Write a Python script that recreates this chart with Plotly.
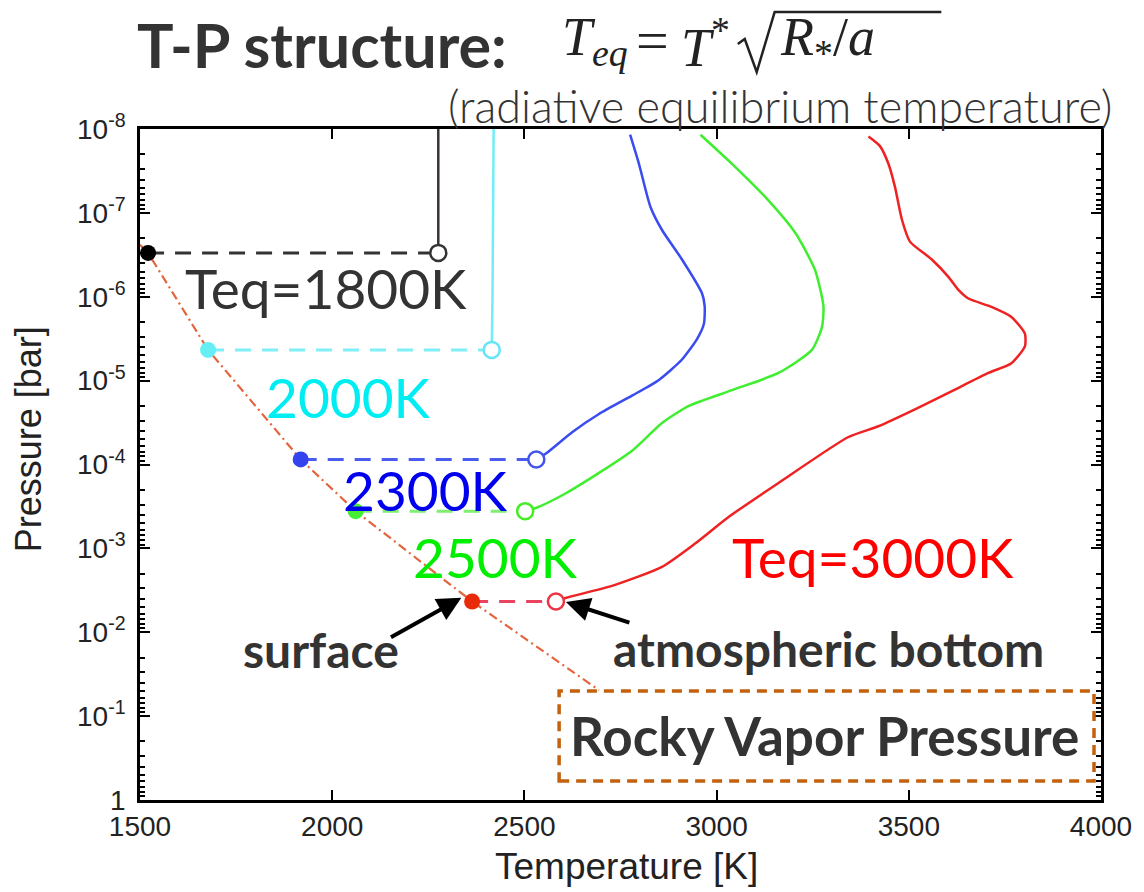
import plotly.graph_objects as go

# ---------------- data ----------------
# Rocky vapour-pressure curve
vap_T = [1500, 1521, 1677, 1918, 2061, 2364, 2694]
vap_P = [2.4e-7, 3.0e-7, 4.3e-6, 8.7e-5, 3.6e-4, 4.3e-3, 4.9e-2]

# Teq = 1800 K
t1800_T = [2276, 2276]
t1800_P = [3.0e-7, 1.0e-8]
# Teq = 2000 K
t2000_T = [2415, 2417, 2420]
t2000_P = [4.3e-6, 1.0e-6, 1.0e-8]
# Teq = 2300 K
t2300_T = [2531, 2556, 2625, 2694, 2781, 2850, 2910, 2949, 2967, 2969, 2962, 2910, 2858, 2828, 2798, 2775]
t2300_P = [8.7e-5, 7.4e-5, 4.1e-5, 2.5e-5, 1.5e-5, 9.8e-6, 5.6e-6, 3.2e-6, 2.1e-6, 1.3e-6, 9.1e-7, 3.6e-7,
           1.6e-7, 8.5e-8, 2.6e-8, 1.17e-8]
# Teq = 2500 K
t2500_T = [2502, 2530, 2608, 2694, 2781, 2858, 2928, 3040, 3161, 3248, 3274, 3278, 3256, 3205, 3127, 3040, 2958]
t2500_P = [3.6e-4, 3.3e-4, 2.2e-4, 1.26e-4, 6.8e-5, 3.2e-5, 2.0e-5, 1.3e-5, 8.1e-6, 4.3e-6, 2.3e-6, 1.3e-6,
           4.8e-7, 1.74e-7, 6.5e-8, 2.6e-8, 1.17e-8]
# Teq = 3000 K
t3000_T = [2582, 2607, 2728, 2858, 2945, 3032, 3161, 3343, 3421, 3516, 3603, 3707, 3767, 3802, 3802, 3767,
           3715, 3655, 3629, 3603, 3560, 3503, 3482, 3464, 3447, 3425, 3395]
t3000_P = [4.3e-3, 3.9e-3, 2.8e-3, 1.66e-3, 8.7e-4, 4.2e-4, 1.66e-4, 4.7e-5, 3.5e-5, 2.2e-5, 1.4e-5, 8.1e-6,
           6.2e-6, 3.9e-6, 2.75e-6, 1.74e-6, 1.32e-6, 1.05e-6, 8.3e-7, 5.8e-7, 3.6e-7, 2.2e-7, 1.2e-7, 4.9e-8,
           2.6e-8, 1.6e-8, 1.23e-8]

# surface points (on vapour curve) and atmospheric bottoms
surf_T = [1521, 1677, 1918, 2061, 2364]
bot_T = [2276, 2415, 2531, 2502, 2582]
bot_P = [3.0e-7, 4.3e-6, 8.7e-5, 3.6e-4, 4.3e-3]

dot_colors = ["#000000", "#66eef5", "#3344ee", "#44ee33", "#e82a08"]
dash_colors = ["#333333", "#7ff0f8", "#4a5cf0", "#80ee70", "#e84460"]
ring_colors = ["#333333", "#66e4f8", "#4455ee", "#44ee22", "#ee3344"]
line_colors = ["#3a3232", "#70eef8", "#3a4cf0", "#40ee30", "#ee2222"]

# tick labels
x_ticks = [1500, 2000, 2500, 3000, 3500, 4000]
y_tickvals = [1e-8, 1e-7, 1e-6, 1e-5, 1e-4, 1e-3, 1e-2, 1e-1, 1]
y_ticktext = ["10<sup>-8</sup>", "10<sup>-7</sup>", "10<sup>-6</sup>", "10<sup>-5</sup>", "10<sup>-4</sup>",
              "10<sup>-3</sup>", "10<sup>-2</sup>", "10<sup>-1</sup>", "1"]
y_minor = [m * 10.0 ** e for e in range(-8, 0) for m in range(2, 10)]

# curve labels (text, T, log10 P, colour)
lab_text = ["Teq=1800K", "2000K", "2300K", "2500K", "Teq=3000K"]
lab_T = [1983, 2043, 2242, 2424, 3408]
lab_logP = [-6.10, -4.80, -3.70, -2.90, -2.90]
lab_color = ["#333333", "#00eef2", "#0000ee", "#00ee00", "#ff0000"]

bold_text = ["surface", "atmospheric bottom"]
bold_T = [1970, 3291]
bold_logP = [-1.79, -1.81]

# ---------------- figure ----------------
PAGE_W, PAGE_H = 1144, 892
OFF = 8  # default page body margin
L, R, T, B = 140, 1103, 129, 800  # plot area in page pixels


def px(xp):
    return (xp - L) / (R - L)


def py(yp):
    return (B - yp) / (B - T)


fig = go.Figure()

fig.add_trace(go.Scatter(x=vap_T, y=vap_P, mode="lines",
                         line=dict(color="#e4643c", width=2.2, dash="9px,4px,2px,4px"),
                         hoverinfo="skip", showlegend=False))

for i in range(5):
    fig.add_trace(go.Scatter(x=[surf_T[i], bot_T[i]], y=[bot_P[i], bot_P[i]], mode="lines",
                             line=dict(color=dash_colors[i], width=3, dash="16px,11px"),
                             showlegend=False))

profiles = [(t1800_T, t1800_P), (t2000_T, t2000_P), (t2300_T, t2300_P), (t2500_T, t2500_P), (t3000_T, t3000_P)]
for i, (tt, pp) in enumerate(profiles):
    fig.add_trace(go.Scatter(x=tt, y=pp, mode="lines", line=dict(color=line_colors[i], width=2.5,
                                                                   shape="spline", smoothing=0.6),
                             showlegend=False))

fig.add_trace(go.Scatter(x=surf_T, y=bot_P, mode="markers",
                         marker=dict(size=16, color=dot_colors, line=dict(width=0)), showlegend=False))
fig.add_trace(go.Scatter(x=bot_T, y=bot_P, mode="markers",
                         marker=dict(size=16, color="white", line=dict(width=2.5, color=ring_colors)),
                         showlegend=False))

# curve labels
for t, xx, yy, c in zip(lab_text, lab_T, lab_logP, lab_color):
    fig.add_annotation(x=xx, y=yy, xref="x", yref="y", text=t, showarrow=False,
                       font=dict(family="Lato", size=55, color=c), xanchor="center", yanchor="middle")
for t, xx, yy in zip(bold_text, bold_T, bold_logP):
    fig.add_annotation(x=xx, y=yy, xref="x", yref="y", text=t, showarrow=False,
                       font=dict(family="Lato", size=48, color="#333333", weight="bold"),
                       xanchor="center", yanchor="middle")

# arrows
fig.add_annotation(x=2336, y=-2.41, ax=2149, ay=-1.93, xref="x", yref="y", axref="x", ayref="y",
                   text="", showarrow=True, arrowhead=2, arrowsize=1.2, arrowwidth=4, arrowcolor="black",
                   standoff=0)
fig.add_annotation(x=2608, y=-2.36, ax=2777, ay=-2.11, xref="x", yref="y", axref="x", ayref="y",
                   text="", showarrow=True, arrowhead=2, arrowsize=1.2, arrowwidth=4, arrowcolor="black",
                   standoff=0)

# Rocky vapour pressure box
fig.add_shape(type="rect", xref="paper", yref="paper", x0=px(560), x1=px(1096), y0=py(781), y1=py(691),
              line=dict(color="#c4610c", width=3.5, dash="10px,7px"), fillcolor="white", layer="above")
fig.add_annotation(x=px(826), y=py(735), xref="paper", yref="paper", text="Rocky Vapor Pressure",
                   showarrow=False, font=dict(family="Lato", size=53, color="#333333", weight="bold"),
                   xanchor="center", yanchor="middle")

# title
fig.add_annotation(x=px(136), y=py(45), xref="paper", yref="paper", text="T-P structure:",
                   showarrow=False, xanchor="left", yanchor="middle", borderpad=0,
                   font=dict(family="Lato", size=61, color="#333333", weight="bold"))
mfont = dict(family="Liberation Serif", size=54, color="#222222")
fig.add_annotation(x=px(562), y=py(40), xref="paper", yref="paper", borderpad=0,
                   text="<i>T</i><sub><i>eq</i></sub>", showarrow=False, xanchor="left", yanchor="middle",
                   font=mfont)
fig.add_annotation(x=px(636), y=py(40), xref="paper", yref="paper", borderpad=0,
                   text="=", showarrow=False, xanchor="left", yanchor="middle",
                   font=dict(family="Liberation Serif", size=58, color="#222222"))
fig.add_annotation(x=px(681), y=py(43), xref="paper", yref="paper", borderpad=0,
                   text="<i>T</i><sup>*</sup>", showarrow=False, xanchor="left", yanchor="middle", font=mfont)
fig.add_annotation(x=px(780), y=py(40), xref="paper", yref="paper", borderpad=0,
                   text="<i>R</i><sub>*</sub>/<i>a</i>", showarrow=False, xanchor="left", yanchor="middle",
                   font=mfont)
fig.add_shape(type="path", xref="paper", yref="paper",
              path=f"M {px(739)},{py(44)} L {px(746)},{py(39)} L {px(758)},{py(72)} L {px(776)},{py(12)} "
                   f"L {px(943)},{py(12)}",
              line=dict(color="#222222", width=2.5))
fig.add_annotation(x=px(1116), y=py(106), xref="paper", yref="paper",
                   text="(radiative equilibrium temperature)", showarrow=False, xanchor="right",
                   yanchor="middle", font=dict(family="Lato", size=45, color="#333333", weight=300))

# axis titles
fig.add_annotation(x=px(628), y=py(866), xref="paper", yref="paper", text="Temperature [K]",
                   showarrow=False, xanchor="center", yanchor="middle",
                   font=dict(family="Liberation Sans, Arial", size=37, color="#222222"))
fig.add_annotation(x=px(28), y=py(439), xref="paper", yref="paper", text="Pressure [bar]", textangle=-90,
                   showarrow=False, xanchor="center", yanchor="middle",
                   font=dict(family="Liberation Sans, Arial", size=36, color="#222222"))

axis_font = dict(family="Liberation Sans, Arial", size=28, color="#222222")
fig.update_xaxes(range=[1500, 4000], tickvals=x_ticks, ticks="inside", ticklen=10, tickwidth=2,
                 tickcolor="black", showline=True, linewidth=2.5, linecolor="black", mirror="ticks",
                 showgrid=False, zeroline=False, tickfont=axis_font)
fig.update_yaxes(type="log", range=[0, -8], tickvals=y_tickvals, ticktext=y_ticktext, ticks="inside",
                 ticklen=10, tickwidth=2, tickcolor="black", showline=True, linewidth=2.5, linecolor="black",
                 mirror="ticks", showgrid=False, zeroline=False, tickfont=axis_font, ticklabelstandoff=6,
                 minor=dict(tickmode="array", tickvals=y_minor, ticks="inside", ticklen=5, tickwidth=1.5,
                            tickcolor="black", showgrid=False))

fig.update_layout(width=PAGE_W - OFF, height=PAGE_H - OFF,
                  margin=dict(l=L - OFF, r=PAGE_W - R, t=T - OFF, b=PAGE_H - B),
                  plot_bgcolor="white", paper_bgcolor="white", showlegend=False)

fig.write_html("out.html")
